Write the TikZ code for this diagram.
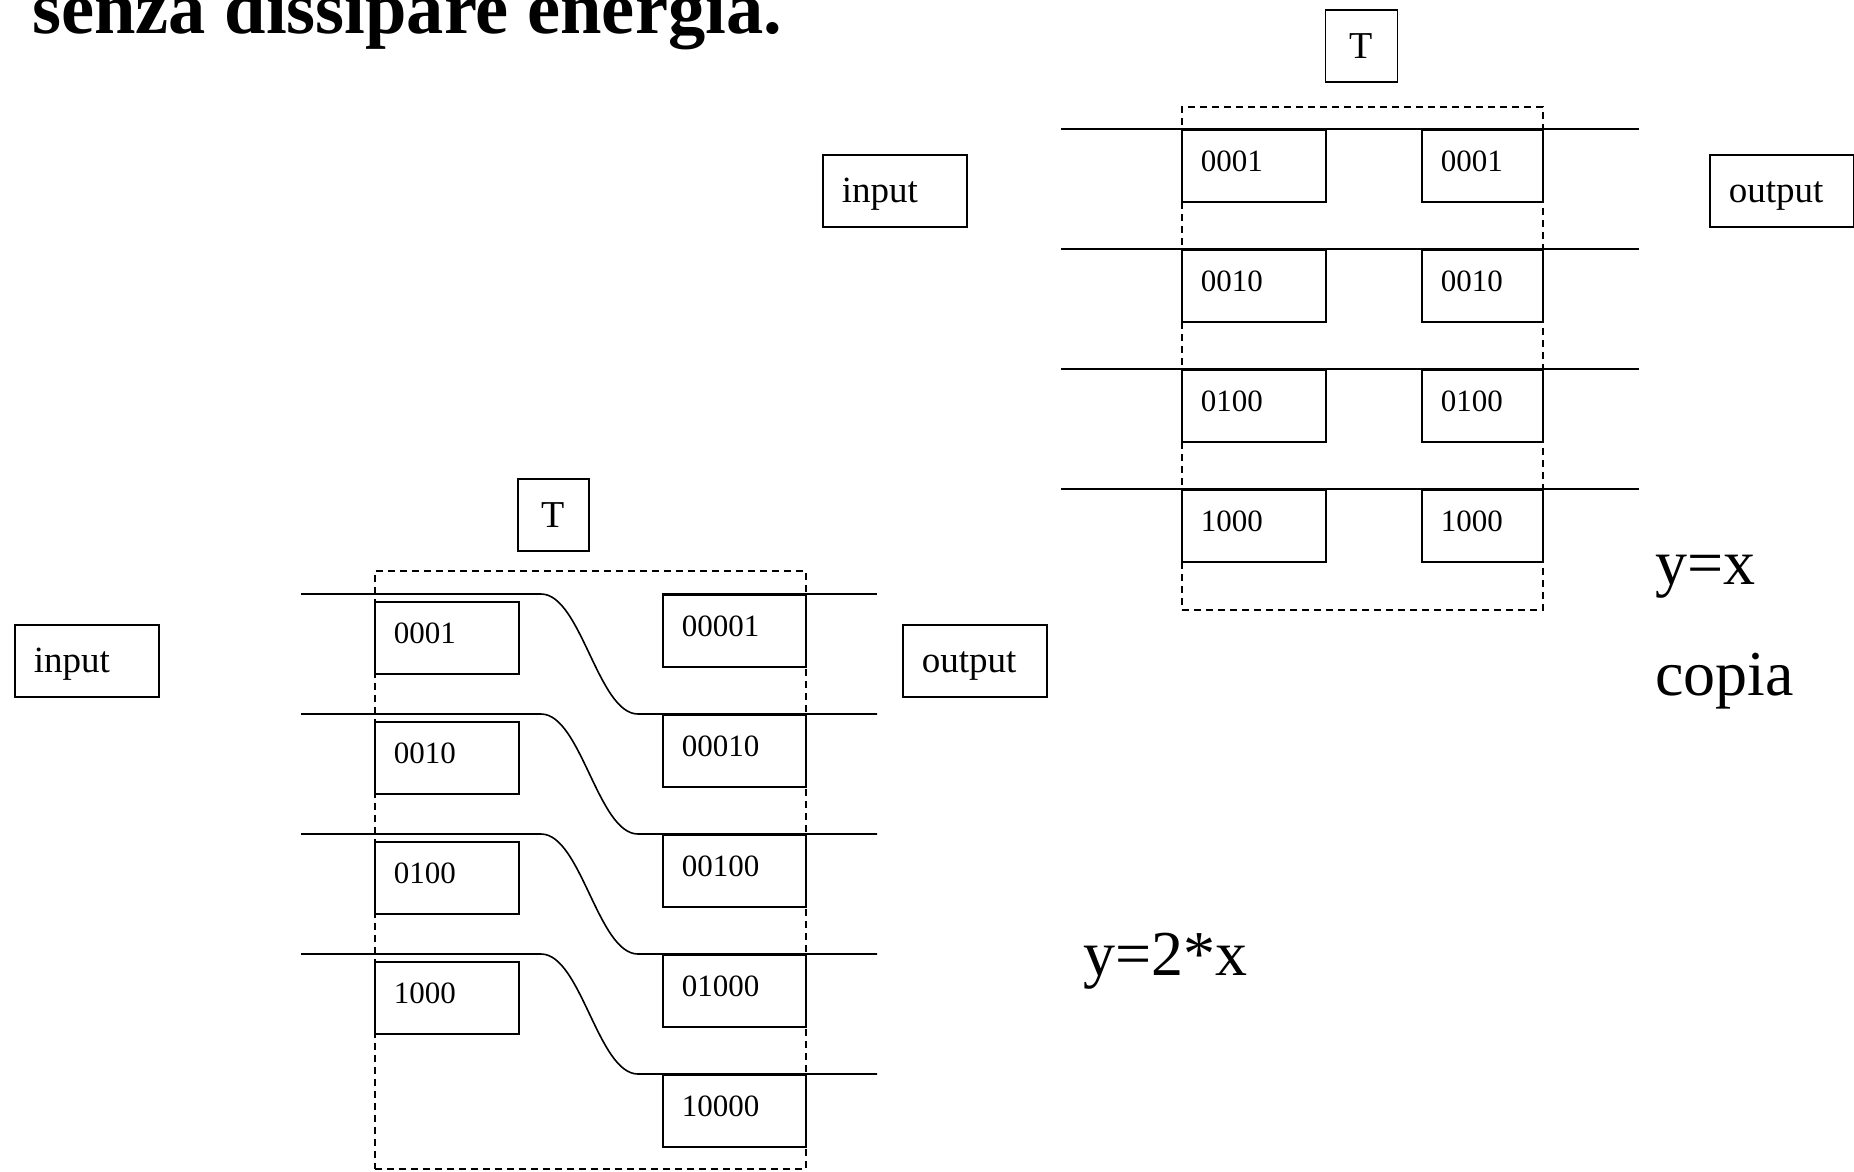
\documentclass[tikz,border=0pt]{standalone}
\usepackage{fontspec}
\setmainfont{Liberation Serif}
\begin{document}
\begin{tikzpicture}[x=1pt,y=-1pt,
  wire/.style={line width=1.6pt},
  frame/.style={draw,line width=1.6pt,dash pattern=on 7pt off 5pt,rectangle,anchor=north west,inner sep=0pt},
  cell/.style={draw,line width=1.6pt,rectangle,anchor=north west,inner xsep=19pt,inner ysep=0pt,
    minimum height=72pt,text width=#1,align=left,text height=21pt,text depth=9.6pt,
    font=\fontsize{31}{36}\selectfont},
  port/.style={cell=106pt,text height=26pt,text depth=3pt,font=\fontsize{37}{42}\selectfont},
  tbox/.style={draw,line width=1.6pt,rectangle,minimum width=72pt,minimum height=72pt,inner sep=0pt,
    font=\fontsize{38}{42}\selectfont},
  big/.style={anchor=base west,inner sep=0pt,font=\fontsize{64}{70}\selectfont}
]
\useasboundingbox (0,0) rectangle (1854,1171);

% heading, partly above the page
\node[anchor=base west,inner sep=0pt,font=\fontsize{74.5}{80}\selectfont\bfseries] (head) at (32,33) {senza dissipare energia.};

% ---------- copy: y = x ----------
\node[frame,minimum width=361pt,minimum height=503pt] (tframe) at (1181,106) {};
\node[tbox] (tT) at (1361.5,46) {T};
\node[port] (tin) at (822,154) {input};
\node[port] (tout) at (1709,154) {output};
\foreach \lab [count=\i from 0] in {0001,0010,0100,1000} {
  \pgfmathsetmacro\yy{129+120*\i}
  \coordinate (ta\i) at (1061,\yy);
  \coordinate (tb\i) at (1639,\yy);
  \draw[wire] (ta\i) -- (tb\i);
  \node[cell=106pt] (tl\i) at (1181,\yy) {\lab};
  \node[cell=83pt] (tr\i) at (1421,\yy) {\lab};
}
\node[big] (eqcopy) at (1655,584) {y=x};
\node[big] (copia) at (1655,695) {copia};

% ---------- shift: y = 2*x ----------
\node[frame,minimum width=431pt,minimum height=598pt] (bframe) at (374,570) {};
\node[tbox,minimum width=71pt] (bT) at (553.5,515) {T};
\node[port] (bin) at (14,624) {input};
\node[port] (bout) at (902,624) {output};
\foreach \lab [count=\i from 0] in {0001,0010,0100,1000} {
  \pgfmathsetmacro\yy{594+120*\i}
  \pgfmathsetmacro\yn{\yy+120}
  \coordinate (ba\i) at (301,\yy);
  \coordinate (bb\i) at (541,\yy);
  \coordinate (bc\i) at (638,\yn);
  \coordinate (bd\i) at (877,\yn);
  \draw[wire] (ba\i) -- (bb\i) .. controls +(40,0) and +(-40,0) .. (bc\i) -- (bd\i);
  \node[cell=106pt] (bl\i) at (374,\yy+7) {\lab};
}
\foreach \lab [count=\j from 0] in {00001,00010,00100,01000,10000} {
  \node[cell=105pt] (br\j) at (662,594+120*\j) {\lab};
}
\coordinate (bo) at (877,594);
\draw[wire] (br0.north west) -- (bo);
\node[big] (eqshift) at (1083,975) {y=2*x};
\end{tikzpicture}
\end{document}
